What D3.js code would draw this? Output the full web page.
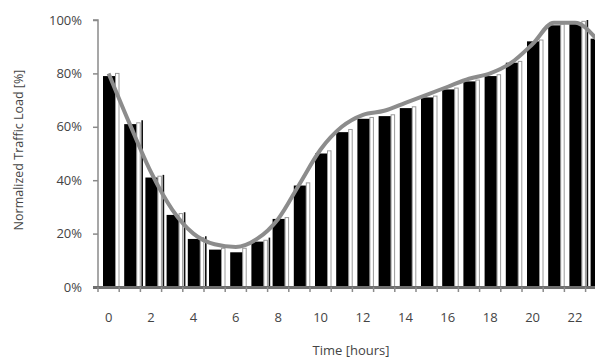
<!DOCTYPE html>
<html>
<head>
<meta charset="utf-8">
<script src="https://cdn.jsdelivr.net/npm/d3@7"></script>
<style>
  html, body { margin: 0; padding: 0; background: #fff; }
  svg { display: block; }
  text { font-family: "Open Sans", "DejaVu Sans", sans-serif; fill: #444; }
</style>
</head>
<body>
<svg id="chart" width="595" height="358"></svg>
<script>
// ---- data ----
const hours = d3.range(0, 24);
const xTickLabels = ["0","2","4","6","8","10","12","14","16","18","20","22"];
const yTicks = [0, 20, 40, 60, 80, 100];
// black bars (% load)
const meanLoad = [79, 61, 41, 27, 18, 14, 13, 17, 25.5, 38, 50, 58, 63, 64, 67, 71, 74, 77, 79, 84, 92, 98, 99, 93];
// white outlined bars (% load)
const altLoad  = [80, 61.5, 41.5, 27.5, 18.5, 14.5, 14.5, 17.5, 26, 39, 51, 59, 63.5, 64.5, 67.5, 71.5, 74.5, 77.5, 79.5, 84.5, 92.5, 98.5, 99.5, 93];
// error bar tops (% load), null where not visible
const errTop   = [null, 62.5, 42, 28, 19, null, null, 18.5, null, null, null, null, null, null, null, null, null, null, null, null, null, null, 100, null];
// smoothed trend line (% load)
const trend    = [80, 61, 43, 29, 20, 16, 15, 18, 25.5, 38.5, 51.5, 60, 64.5, 66, 69, 72, 75, 78, 80, 84, 91, 99, 99, 93];

// ---- layout ----
const svg = d3.select("#chart");
const x0 = 98, bandW = 21.2;
const x = d3.scaleBand().domain(hours).range([x0, x0 + bandW * hours.length]).padding(0);
const y = d3.scaleLinear().domain([0, 100]).range([287, 20]);

// white outlined bars
svg.append("g").selectAll("rect").data(hours).join("rect")
  .attr("x", h => x(h) + 17.5)
  .attr("y", h => y(altLoad[h]))
  .attr("width", 3.5)
  .attr("height", h => y(0) - y(altLoad[h]))
  .attr("fill", "#fff")
  .attr("stroke", "#9a9a9a")
  .attr("stroke-width", 1);

// black bars
svg.append("g").selectAll("rect").data(hours).join("rect")
  .attr("x", h => x(h) + 5)
  .attr("y", h => y(meanLoad[h]))
  .attr("width", 12)
  .attr("height", h => y(0) - y(meanLoad[h]))
  .attr("fill", "#000");

// error lines
svg.append("g").selectAll("line").data(hours.filter(h => errTop[h] !== null)).join("line")
  .attr("x1", h => x(h) + 23)
  .attr("x2", h => x(h) + 23)
  .attr("y1", h => y(errTop[h]))
  .attr("y2", y(0))
  .attr("stroke", "#111")
  .attr("stroke-width", 1.6);

// trend line
const line = d3.line()
  .x(h => x(h) + x.bandwidth() / 2)
  .y(h => y(trend[h]))
  .curve(d3.curveMonotoneX);
svg.append("path")
  .datum(hours)
  .attr("d", line)
  .attr("fill", "none")
  .attr("stroke", "#8c8c8c")
  .attr("stroke-width", 4)
  .attr("stroke-linejoin", "round");

// y axis
const yAxis = d3.axisLeft(y).tickValues(yTicks).tickFormat(d => d + "%").tickSize(5).tickPadding(11);
const gy = svg.append("g").attr("transform", `translate(${x0},0)`).call(yAxis);
gy.select(".domain").attr("stroke", "#8a8a8a").attr("stroke-width", 1.5).attr("d", `M-5,${y(100)}H0V${y(0)}`);
gy.selectAll(".tick line").attr("stroke", "#8a8a8a").attr("stroke-width", 1.5);
gy.selectAll(".tick text").attr("font-size", 13).attr("fill", "#444")
  .attr("font-family", "'Open Sans', 'DejaVu Sans', sans-serif");

// x axis baseline with band-boundary ticks
const gx = svg.append("g");
gx.append("line").attr("x1", x0 - 5).attr("x2", 600).attr("y1", y(0) + 0.5).attr("y2", y(0) + 0.5)
  .attr("stroke", "#6e6e6e").attr("stroke-width", 3);
gx.selectAll("line.tk").data(hours).join("line").attr("class", "tk")
  .attr("x1", h => x(h)).attr("x2", h => x(h))
  .attr("y1", y(0)).attr("y2", y(0) + 5)
  .attr("stroke", "#8a8a8a").attr("stroke-width", 1.5);

// x tick labels (every 2 hours)
gx.selectAll("text.xl").data(xTickLabels).join("text").attr("class", "xl")
  .attr("x", d => x(+d) + x.bandwidth() / 2)
  .attr("y", 322)
  .attr("text-anchor", "middle")
  .attr("font-size", 13)
  .text(d => d);

// axis titles
svg.append("text")
  .attr("x", 351).attr("y", 355)
  .attr("text-anchor", "middle")
  .attr("font-size", 13)
  .text("Time [hours]");

svg.append("text")
  .attr("transform", "translate(23,150) rotate(-90)")
  .attr("text-anchor", "middle")
  .attr("font-size", 12.5)
  .text("Normalized Traffic  Load [%]");
</script>
</body>
</html>
